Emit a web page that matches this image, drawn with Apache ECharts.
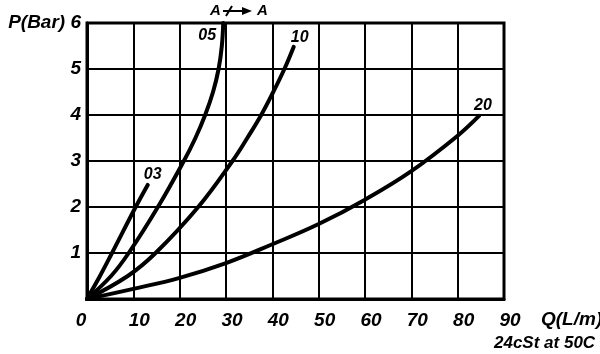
<!DOCTYPE html>
<html>
<head>
<meta charset="utf-8">
<script src="https://cdn.jsdelivr.net/npm/echarts@6/dist/echarts.min.js"></script>
<style>
    html, body { margin: 0; padding: 0; background: #fff; }
    #main { width: 600px; height: 354px; }
</style>
</head>
<body>
<div id="main"></div>
<script>
    // pressure drop curves, [Q (L/min), P (bar)]
    let curve03 = [[0, 0], [2.8, 0.5], [5.4, 1], [10.5, 2], [13.1, 2.48]];
    let curve05 = [[0, 0], [5.2, 0.5], [9.0, 1], [15.3, 2], [20.9, 3], [23.4, 3.5], [25.5, 4], [27.2, 4.5], [28.4, 5], [29.1, 5.5], [29.4, 6]];
    let curve10 = [[0, 0], [8.8, 0.5], [14.8, 1], [24.0, 2], [31.4, 3], [34.6, 3.5], [37.6, 4], [40.2, 4.5], [42.6, 5], [44.6, 5.48]];
    let curve20 = [[0, 0], [10, 0.22], [20, 0.46], [30, 0.78], [40, 1.19], [50, 1.63], [60, 2.16], [70, 2.78], [80, 3.55], [84.6, 3.98]];
    let curveNames = ['03', '05', '10', '20'];
    let labelOffsets = [[5, -10], [-16, 13], [6, -9], [4, -10]];

    let font = '"Liberation Sans", Arial, sans-serif';

    let myChart = echarts.init(document.getElementById('main'));

    let series = [curve03, curve05, curve10, curve20].map((d, i) => ({
        name: curveNames[i],
        type: 'line',
        data: d,
        smooth: 0.4,
        showSymbol: false,
        lineStyle: { color: '#000', width: 4, cap: 'round' },
        endLabel: {
            show: true,
            formatter: curveNames[i],
            align: 'center',
            verticalAlign: 'middle',
            distance: 0,
            offset: labelOffsets[i],
            color: '#000',
            fontFamily: font,
            fontStyle: 'italic',
            fontWeight: 'bold',
            fontSize: 16
        }
    }));

    let option = {
        animation: false,
        grid: {
            left: 87, right: 96, top: 23, bottom: 55,
            show: true, borderColor: '#000', borderWidth: 3
        },
        xAxis: {
            type: 'value', min: 0, max: 90, interval: 10,
            axisLine: { show: true, lineStyle: { color: '#000', width: 3 } },
            axisTick: { show: false },
            splitLine: { lineStyle: { color: '#000', width: 2 } },
            axisLabel: {
                margin: 12,
                color: '#000',
                fontFamily: font, fontStyle: 'italic', fontWeight: 'bold', fontSize: 19,
                padding: [0, 0, 0, 12],
                formatter: v => v === 0 ? '{z|0}' : String(v),
                rich: {
                    z: { padding: [0, 24, 0, 0], color: '#000', fontFamily: font, fontStyle: 'italic', fontWeight: 'bold', fontSize: 19 }
                }
            }
        },
        yAxis: {
            type: 'value', min: 0, max: 6, interval: 1,
            axisLine: { show: true, lineStyle: { color: '#000', width: 3 } },
            axisTick: { show: false },
            splitLine: { lineStyle: { color: '#000', width: 2 } },
            axisLabel: {
                margin: 6,
                color: '#000',
                fontFamily: font, fontStyle: 'italic', fontWeight: 'bold', fontSize: 19,
                formatter: v => v === 0 ? '' : (v === 6 ? 'P(Bar) 6' : String(v))
            }
        },
        graphic: [
            { type: 'text', left: 541, top: 310, style: { text: 'Q(L/m)', fill: '#000', font: 'italic bold 19px ' + font } },
            { type: 'text', left: 494, top: 335, style: { text: '24cSt at 50C', fill: '#000', font: 'italic bold 17px ' + font } },
            { type: 'text', left: 210, top: 3, style: { text: 'A', fill: '#000', font: 'italic bold 15px ' + font } },
            { type: 'text', left: 257, top: 3, style: { text: 'A', fill: '#000', font: 'italic bold 15px ' + font } },
            { type: 'line', shape: { x1: 223, y1: 11, x2: 244, y2: 11 }, style: { stroke: '#000', lineWidth: 2 } },
            { type: 'line', shape: { x1: 226, y1: 16, x2: 232, y2: 6 }, style: { stroke: '#000', lineWidth: 2 } },
            { type: 'polygon', shape: { points: [[242, 7], [252, 11], [242, 15]] }, style: { fill: '#000' } }
        ],
        series: series
    };

    myChart.setOption(option, true);
</script>
</body>
</html>
